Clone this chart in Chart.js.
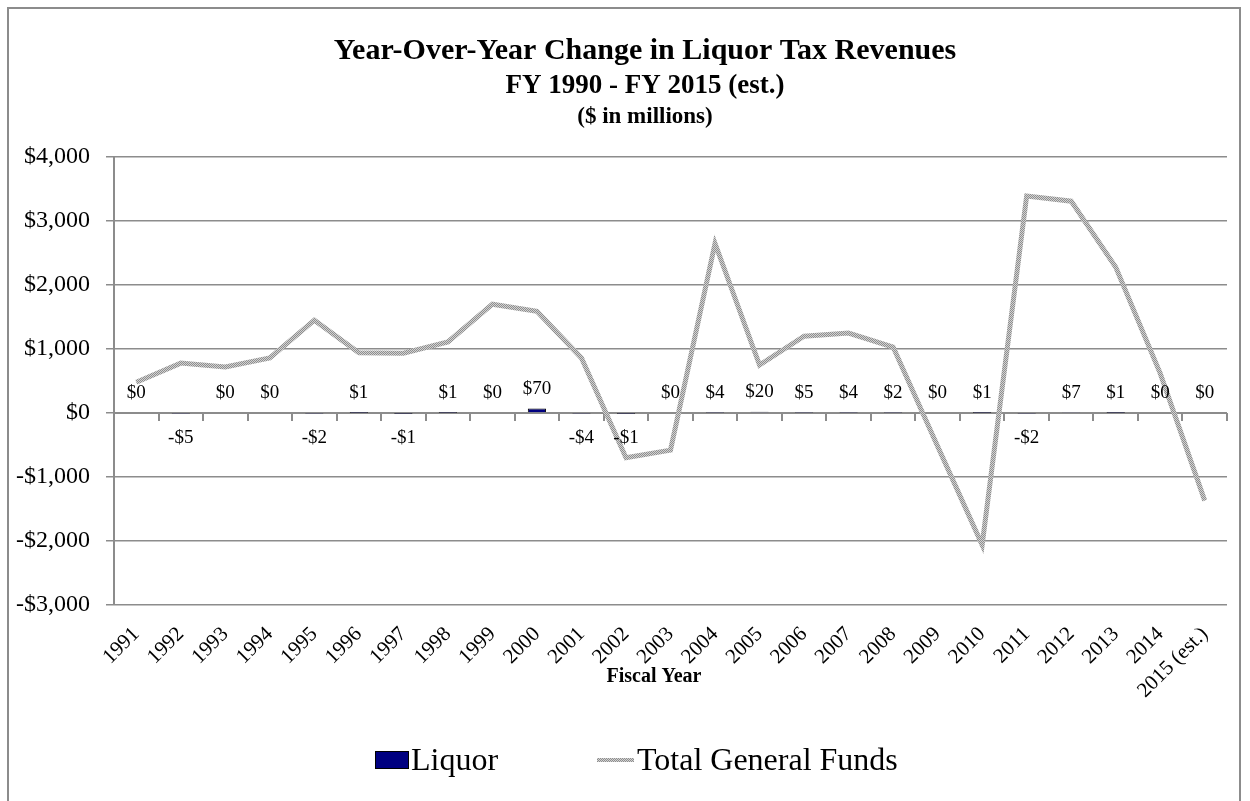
<!DOCTYPE html>
<html>
<head>
<meta charset="utf-8">
<title>Liquor Tax Revenues</title>
<script src="https://cdn.jsdelivr.net/npm/chart.js@4.4.1/dist/chart.umd.min.js"></script>
<style>
  html, body { margin: 0; padding: 0; background: #fff; overflow: hidden; }
  #wrap { position: relative; width: 1250px; height: 801px; }
  #frame {
    position: absolute; left: 7px; top: 7px; width: 1234px; height: 830px;
    border: 2px solid #8c8c8c; box-sizing: border-box;
  }
  #chart { position: absolute; left: 0; top: 0; }
</style>
</head>
<body>
<div id="wrap">
  <div id="frame"></div>
  <canvas id="chart" width="1250" height="801"></canvas>
</div>
<script>
const fiscalYears = ['1991', '1992', '1993', '1994', '1995', '1996', '1997', '1998', '1999', '2000',
    '2001', '2002', '2003', '2004', '2005', '2006', '2007', '2008', '2009', '2010',
    '2011', '2012', '2013', '2014', '2015 (est.)'];

// Year-over-year change, $ millions
const liquorChange = [0, -5, 0, 0, -2, 1, -1, 1, 0, 70,
    -4, -1, 0, 4, 20, 5, 4, 2, 0, 1,
    -2, 7, 1, 0, 0];

const generalFundsChange = [480, 780, 720, 860, 1450, 940, 935, 1110, 1700, 1590,
    860, -700, -580, 2650, 750, 1200, 1250, 1030, -520, -2060,
    3390, 3310, 2280, 620, -1370];

const yMin = -3000;
const yMax = 4000;
const yStep = 1000;

const SERIF = '"Liberation Serif", "Times New Roman", serif';
const GRID = '#8c8c8c';

function money(v) {
    const s = '$' + Math.abs(v).toLocaleString('en-US');
    return v < 0 ? '-' + s : s;
}

// grey stippled stroke for the general funds line
function stipple() {
    const c = document.createElement('canvas');
    c.width = 2;
    c.height = 2;
    const g = c.getContext('2d');
    g.fillStyle = '#d2d2d2';
    g.fillRect(0, 0, 2, 2);
    g.fillStyle = '#8e8e8e';
    g.fillRect(0, 0, 1, 1);
    g.fillRect(1, 1, 1, 1);
    return g.createPattern(c, 'repeat');
}

// category axis drawn through $0 with tick marks between years
const zeroAxis = {
    id: 'zeroAxis',
    beforeDatasetsDraw(chart) {
        const { ctx, chartArea, scales } = chart;
        const y0 = scales.y.getPixelForValue(0);
        const n = fiscalYears.length;
        const w = (chartArea.right - chartArea.left) / n;
        ctx.save();
        ctx.strokeStyle = GRID;
        ctx.lineWidth = 2;
        ctx.beginPath();
        ctx.moveTo(chartArea.left, y0);
        ctx.lineTo(chartArea.right, y0);
        for (let i = 0; i <= n; i++) {
            const x = Math.round(chartArea.left + i * w);
            ctx.moveTo(x, y0);
            ctx.lineTo(x, y0 + 8);
        }
        ctx.stroke();
        ctx.restore();
    }
};

// value labels for the liquor bars
const barLabels = {
    id: 'barLabels',
    afterDatasetsDraw(chart) {
        const { ctx, scales } = chart;
        const meta = chart.getDatasetMeta(1);
        const y0 = scales.y.getPixelForValue(0);
        ctx.save();
        ctx.font = '19px ' + SERIF;
        ctx.fillStyle = '#000';
        ctx.textAlign = 'center';
        ctx.textBaseline = 'middle';
        meta.data.forEach((bar, i) => {
            const v = liquorChange[i];
            const y = v < 0 ? y0 + 25 : Math.min(bar.y, y0) - 20;
            ctx.fillText(money(v), bar.x, y);
        });
        ctx.restore();
    }
};

// titles, axis caption and legend
const decorations = {
    id: 'decorations',
    afterDraw(chart) {
        const { ctx } = chart;
        const cx = 645;
        ctx.save();
        ctx.fillStyle = '#000';
        ctx.textAlign = 'center';
        ctx.textBaseline = 'middle';
        ctx.font = 'bold 30px ' + SERIF;
        ctx.fillText('Year-Over-Year Change in Liquor Tax Revenues', cx, 51);
        ctx.font = 'bold 27px ' + SERIF;
        ctx.fillText('FY 1990 - FY 2015 (est.)', cx, 86);
        ctx.font = 'bold 23px ' + SERIF;
        ctx.fillText('($ in millions)', cx, 117);

        ctx.font = 'bold 20px ' + SERIF;
        ctx.fillText('Fiscal Year', 654, 677);

        // legend
        ctx.fillStyle = '#000080';
        ctx.fillRect(375, 751, 34, 18);
        ctx.strokeStyle = '#000';
        ctx.lineWidth = 1;
        ctx.strokeRect(375.5, 751.5, 33, 17);

        ctx.strokeStyle = stipple();
        ctx.lineWidth = 4;
        ctx.beginPath();
        ctx.moveTo(597, 760);
        ctx.lineTo(634, 760);
        ctx.stroke();

        ctx.fillStyle = '#000';
        ctx.textAlign = 'left';
        ctx.textBaseline = 'alphabetic';
        ctx.font = '32px ' + SERIF;
        ctx.fillText('Liquor', 411, 770);
        ctx.fillText('Total General Funds', 637, 770);
        ctx.restore();
    }
};

const ctx = document.getElementById('chart').getContext('2d');

new Chart(ctx, {
    type: 'bar',
    data: {
        labels: fiscalYears,
        datasets: [{
            type: 'line',
            label: 'Total General Funds',
            data: generalFundsChange,
            borderColor: stipple(),
            borderWidth: 5,
            pointRadius: 0,
            tension: 0,
            order: 1
        }, {
            type: 'bar',
            label: 'Liquor',
            data: liquorChange,
            backgroundColor: '#000080',
            borderColor: '#000',
            borderWidth: 1,
            barPercentage: 0.41,
            categoryPercentage: 1,
            order: 2
        }]
    },
    options: {
        responsive: false,
        animation: false,
        devicePixelRatio: 1,
        layout: {
            padding: { top: 157, right: 23, bottom: 0, left: 0 }
        },
        plugins: {
            legend: { display: false },
            title: { display: false },
            tooltip: { enabled: false }
        },
        scales: {
            x: {
                grid: { display: false },
                border: { display: false },
                ticks: {
                    color: '#000',
                    font: { family: SERIF, size: 21 },
                    minRotation: 45,
                    maxRotation: 45,
                    autoSkip: false,
                    padding: 9
                },
                afterFit(scale) { scale.height = 196; }
            },
            y: {
                min: yMin,
                max: yMax,
                grid: { color: GRID, lineWidth: 1.5, tickLength: 8 },
                border: { color: GRID, width: 2 },
                ticks: {
                    stepSize: yStep,
                    color: '#000',
                    font: { family: SERIF, size: 24 },
                    padding: 16,
                    callback: v => money(v)
                },
                afterFit(scale) { scale.width = 114; }
            }
        }
    },
    plugins: [zeroAxis, barLabels, decorations]
});
</script>
</body>
</html>
